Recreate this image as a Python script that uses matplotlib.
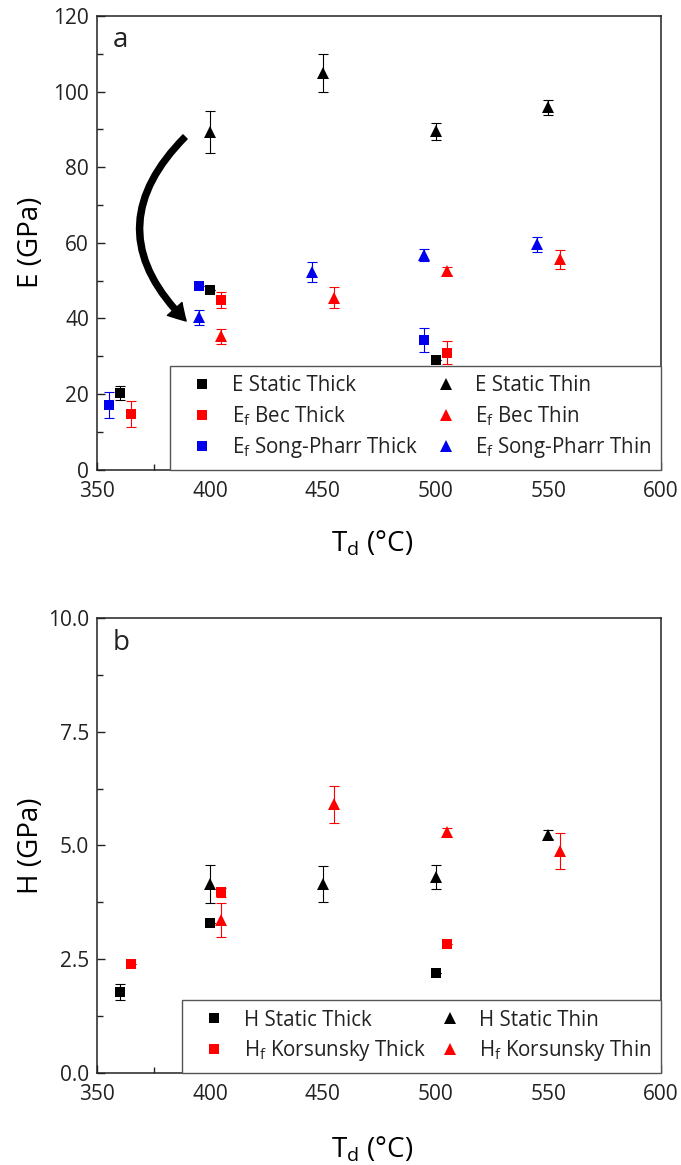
import matplotlib
matplotlib.use('Agg')
import matplotlib.pyplot as plt
from matplotlib.patches import FancyArrowPatch
from matplotlib.ticker import MultipleLocator, FormatStrFormatter

plt.rcParams['font.family'] = ['Open Sans', 'DejaVu Sans']
plt.rcParams['mathtext.fontset'] = 'custom'
plt.rcParams['mathtext.rm'] = 'Open Sans'
plt.rcParams['text.color'] = '#222222'

# ---------------- Panel a : Young's modulus (GPa) ----------------
e_static_thick_T = [360, 400, 500]
e_static_thick = [20.3, 47.4, 28.9]
e_static_thick_err = [1.8, 0.0, 0.0]

e_static_thin_T = [400, 450, 500, 550]
e_static_thin = [89.3, 105.0, 89.5, 95.8]
e_static_thin_err = [5.6, 5.0, 2.2, 2.0]

ef_bec_thick_T = [365, 405, 505]
ef_bec_thick = [14.7, 44.8, 30.9]
ef_bec_thick_err = [3.4, 2.1, 3.0]

ef_bec_thin_T = [405, 455, 505, 555]
ef_bec_thin = [35.3, 45.5, 52.5, 55.6]
ef_bec_thin_err = [2.0, 2.8, 1.0, 2.5]

ef_sp_thick_T = [355, 395, 495]
ef_sp_thick = [17.1, 48.6, 34.3]
ef_sp_thick_err = [3.5, 0.0, 3.2]

ef_sp_thin_T = [395, 445, 495, 545]
ef_sp_thin = [40.3, 52.3, 56.8, 59.6]
ef_sp_thin_err = [2.0, 2.7, 1.5, 2.0]

# ---------------- Panel b : Hardness (GPa) ----------------
h_static_thick_T = [360, 400, 500]
h_static_thick = [1.78, 3.29, 2.20]
h_static_thick_err = [0.18, 0.0, 0.0]

h_static_thin_T = [400, 450, 500, 550]
h_static_thin = [4.15, 4.15, 4.30, 5.23]
h_static_thin_err = [0.42, 0.40, 0.27, 0.10]

hf_kor_thick_T = [365, 405, 505]
hf_kor_thick = [2.40, 3.97, 2.83]
hf_kor_thick_err = [0.0, 0.10, 0.0]

hf_kor_thin_T = [405, 455, 505, 555]
hf_kor_thin = [3.36, 5.90, 5.29, 4.87]
hf_kor_thin_err = [0.38, 0.40, 0.10, 0.40]

BLACK = '#000000'
RED = '#FF0000'
BLUE = '#0000EE'

fig = plt.figure(figsize=(6.81, 11.65), dpi=100)
ax1 = fig.add_axes([0.1429, 0.5969, 0.8277, 0.3894])
ax2 = fig.add_axes([0.1429, 0.0793, 0.8277, 0.3902])


def series(ax, x, y, err, color, marker, label):
    ms = 7.2 if marker == 's' else 9.3
    ax.errorbar(x, y, yerr=err, fmt='none', ecolor=color, elinewidth=0.8,
                capsize=3.3, capthick=0.8, zorder=2)
    ln, = ax.plot(x, y, linestyle='none', marker=marker, color=color,
                  markersize=ms, markeredgewidth=0, label=label, zorder=3)
    return ln


def style_axis(ax, ymax, ymaj, ymin, fmt):
    ax.set_xlim(350, 600)
    ax.set_ylim(0, ymax)
    ax.xaxis.set_major_locator(MultipleLocator(50))
    ax.xaxis.set_minor_locator(MultipleLocator(25))
    ax.yaxis.set_major_locator(MultipleLocator(ymaj))
    ax.yaxis.set_minor_locator(MultipleLocator(ymin))
    ax.yaxis.set_major_formatter(FormatStrFormatter(fmt))
    ax.tick_params(which='both', direction='in', top=False, right=False,
                   width=1.0, colors='#222222', labelsize=15)
    ax.tick_params(axis='x', which='both', pad=8)
    ax.tick_params(axis='y', which='both', pad=6)
    ax.tick_params(which='major', length=6)
    ax.tick_params(which='minor', length=4)
    for s in ax.spines.values():
        s.set_linewidth(1.1)
        s.set_color('#222222')


LEG_KW = dict(ncol=2, loc='lower left', mode='expand', borderaxespad=0, fontsize=14.8,
              frameon=True, fancybox=False, framealpha=1, edgecolor='#555555',
              borderpad=0.45, labelspacing=0.38, handlelength=2.25, handletextpad=0.3,
              columnspacing=0.5)

# ---- panel a ----
h = []
h.append(series(ax1, e_static_thick_T, e_static_thick, e_static_thick_err, BLACK, 's', 'E Static Thick'))
h.append(series(ax1, ef_bec_thick_T, ef_bec_thick, ef_bec_thick_err, RED, 's', r'E$_\mathregular{f}$ Bec Thick'))
h.append(series(ax1, ef_sp_thick_T, ef_sp_thick, ef_sp_thick_err, BLUE, 's', r'E$_\mathregular{f}$ Song-Pharr Thick'))
h.append(series(ax1, e_static_thin_T, e_static_thin, e_static_thin_err, BLACK, '^', 'E Static Thin'))
h.append(series(ax1, ef_bec_thin_T, ef_bec_thin, ef_bec_thin_err, RED, '^', r'E$_\mathregular{f}$ Bec Thin'))
h.append(series(ax1, ef_sp_thin_T, ef_sp_thin, ef_sp_thin_err, BLUE, '^', r'E$_\mathregular{f}$ Song-Pharr Thin'))
style_axis(ax1, 120, 20, 10, '%d')
ax1.set_ylabel('E (GPa)', fontsize=20)
ax1.set_xlabel(r'T$_\mathregular{d}$ (°C)', fontsize=20)
ax1.yaxis.set_label_coords(-0.093, 0.5)
ax1.xaxis.set_label_coords(0.488, -0.13)
ax1.text(0.028, 0.932, 'a', transform=ax1.transAxes, fontsize=20, va='baseline', ha='left')
leg1 = ax1.legend(handles=h, bbox_to_anchor=(0.129, 0.0, 0.871, 0.226), **LEG_KW)
leg1.get_frame().set_linewidth(1.0)
leg1.set_zorder(5)

arrow = FancyArrowPatch((388.9, 88.0), (389.4, 39.3), connectionstyle='arc3,rad=0.5',
                        arrowstyle='simple,head_width=14,head_length=12,tail_width=4.2',
                        color='black', shrinkA=0, shrinkB=0, mutation_scale=1, zorder=4)
ax1.add_patch(arrow)

# ---- panel b ----
h2 = []
h2.append(series(ax2, h_static_thick_T, h_static_thick, h_static_thick_err, BLACK, 's', 'H Static Thick'))
h2.append(series(ax2, hf_kor_thick_T, hf_kor_thick, hf_kor_thick_err, RED, 's', r'H$_\mathregular{f}$ Korsunsky Thick'))
h2.append(series(ax2, h_static_thin_T, h_static_thin, h_static_thin_err, BLACK, '^', 'H Static Thin'))
h2.append(series(ax2, hf_kor_thin_T, hf_kor_thin, hf_kor_thin_err, RED, '^', r'H$_\mathregular{f}$ Korsunsky Thin'))
style_axis(ax2, 10, 2.5, 1.25, '%.1f')
ax2.set_ylabel('H (GPa)', fontsize=20)
ax2.set_xlabel(r'T$_\mathregular{d}$ (°C)', fontsize=20)
ax2.yaxis.set_label_coords(-0.093, 0.5)
ax2.xaxis.set_label_coords(0.488, -0.135)
ax2.text(0.028, 0.9296, 'b', transform=ax2.transAxes, fontsize=20, va='baseline', ha='left')
leg2 = ax2.legend(handles=h2, bbox_to_anchor=(0.150, 0.0, 0.850, 0.1575), **LEG_KW)
leg2.get_frame().set_linewidth(1.0)
leg2.set_zorder(5)

fig.savefig('out.png', dpi=100)
